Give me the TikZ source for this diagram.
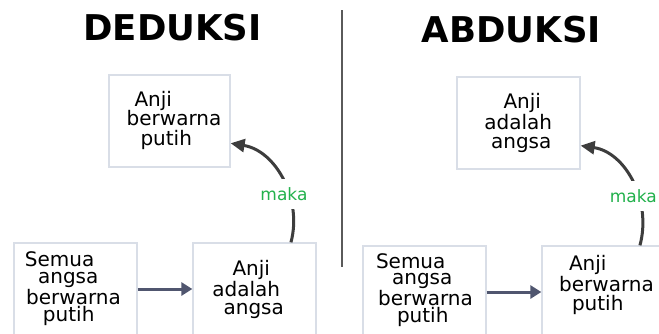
\documentclass[tikz,border=0pt]{standalone}
\usepackage{fontspec}
\setmainfont{DejaVu Sans}
\usetikzlibrary{arrows.meta}
\definecolor{boxline}{HTML}{D9DEE7}
\definecolor{flowarrow}{HTML}{50566F}
\definecolor{curvearrow}{HTML}{3D3D3D}
\definecolor{makagreen}{HTML}{22B14C}
\definecolor{divline}{HTML}{5A5A5A}
\begin{document}
\begin{tikzpicture}[x=1pt,y=-1pt,
  box/.style={draw=boxline,line width=1.3pt,minimum width=#1,minimum height=92pt,inner sep=0pt},
  box/.default=123pt,
  txt/.style={align=left,anchor=base west,inner sep=0pt},
  title/.style={font=\fontsize{35.5}{40}\selectfont\bfseries,anchor=base,inner sep=0pt},
  flow/.style={draw=flowarrow,line width=3pt,-{Triangle[length=11pt,width=13pt]}},
  curve/.style={draw=curvearrow,line width=3pt,-{Triangle[length=14pt,width=13pt]}},
  maka/.style={font=\fontsize{17}{17}\selectfont,text=makagreen,fill=white,inner sep=1pt,minimum height=30pt,xshift=-5pt},
  divider/.style={draw=divline,line width=1.2pt}
]
\useasboundingbox (0,0) rectangle (659,333);
\clip (0,0) rectangle (659,333);

% titles
\node[title] (tded) at (172.5,40) {DEDUKSI};
\node[title] (tabd) at (511.5,42) {ABDUKSI};

% divider
\coordinate (dv1) at (342,10);
\coordinate (dv2) at (342,267);
\draw[divider] (dv1) -- (dv2);

% boxes
\node[box=121pt] (dtop) at (169.5,121) {};
\node[box] (dleft) at (75.5,289) {};
\node[box] (dright) at (254.5,289) {};
\node[box] (atop) at (518.5,123) {};
\node[box] (aleft) at (424.5,292) {};
\node[box] (aright) at (603.5,292) {};

% texts (anchor = baseline of the last line)
\node[txt,font=\fontsize{20}{19.5}\selectfont] (dtopt) at (126.5,145)
  {\hspace*{7.8pt}Anji\\berwarna\\\hspace*{13.8pt}putih};
\node[txt,font=\fontsize{20}{17}\selectfont] (dleftt) at (26,321)
  {\hspace*{-1.2pt}Semua\\\hspace*{11.9pt}angsa\\berwarna\\\hspace*{16.8pt}putih};
\node[txt,font=\fontsize{20}{18}\selectfont] (drightt) at (212.2,314)
  {\hspace*{20.1pt}Anji\\adalah\\\hspace*{11.2pt}angsa};
\node[txt,font=\fontsize{20}{19}\selectfont] (atopt) at (484.2,148)
  {\hspace*{19.1pt}Anji\\adalah\\\hspace*{6.7pt}angsa};
\node[txt,font=\fontsize{20}{16.7}\selectfont] (aleftt) at (378,322)
  {\hspace*{-2.2pt}Semua\\\hspace*{13.9pt}angsa\\berwarna\\\hspace*{18.8pt}putih};
\node[txt,font=\fontsize{20}{19}\selectfont] (arightt) at (559,310)
  {\hspace*{9.8pt}Anji\\berwarna\\\hspace*{12.8pt}putih};

% straight arrows
\draw[flow] (dleft) -- (dright);
\draw[flow] (aleft) -- (aright);

% curved arrows
\draw[curve] (dright.52) .. controls (302.4,199.7) and (276.3,150.8) .. (dtop.-20)
  node[maka,pos=0.375] (m1) {maka};
\draw[curve] (aright.52) .. controls (651.9,201.2) and (625.8,152.3) .. (atop.-20)
  node[maka,pos=0.375] (m2) {maka};
\end{tikzpicture}
\end{document}
